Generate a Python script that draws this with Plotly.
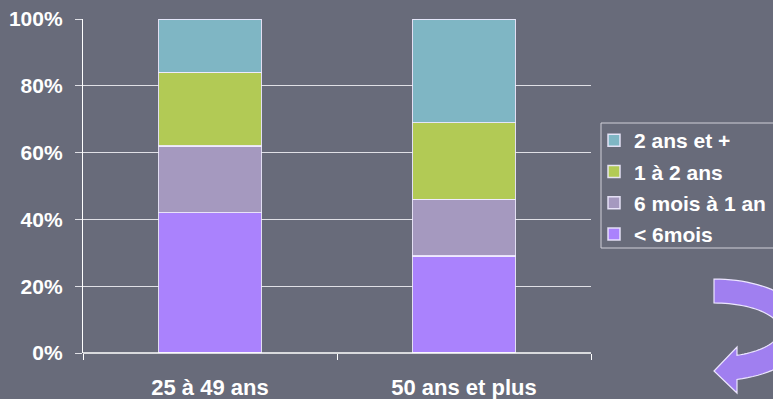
import numpy as np
import plotly.graph_objects as go

categories = ["25 à 49 ans", "50 ans et plus"]
series_names = ["< 6mois", "6 mois à 1 an", "1 à 2 ans", "2 ans et +"]
lt6 = [42, 29]
m6_1 = [20, 17]
a1_2 = [22, 23]
a2p = [16, 31]
colors = ["#aa82fd", "#a599bf", "#b2ca55", "#7fb6c4"]
y_ticks = [0, 20, 40, 60, 80, 100]
y_tick_labels = ["0%", "20%", "40%", "60%", "80%", "100%"]

W, H = 773, 399
L, R, T, B = 83, 591, 19, 353
BG = "#686b7a"
FONT = "Liberation Sans, Arial, sans-serif"

fig = go.Figure()
for i, (name, vals, col) in enumerate(zip(series_names, [lt6, m6_1, a1_2, a2p], colors)):
    fig.add_trace(go.Bar(
        x=categories, y=vals, name=name, legendgroup=name, legendrank=10 - i,
        marker=dict(color=col, line=dict(color="rgba(240,235,255,0.9)", width=1.5)),
        width=0.405,
    ))

def px2paper(px, py):
    return (px - L) / (R - L), (B - py) / (B - T)

# curved arrow decoration (pixel geometry converted to paper coords)
cx, cy = 714, 330
ro_x, ro_y = 95, 51
ri_x, ri_y = 66, 27
pts = []
end_o = np.degrees(np.arccos(23 / ro_x))
for a in np.linspace(-90, end_o, 50):
    r = np.radians(a)
    pts.append((cx + ro_x * np.cos(r), cy + ro_y * np.sin(r)))
pts.append((737, 393))
pts.append((714, 371))
pts.append((737, 347))
end_i = np.degrees(np.arccos(23 / ri_x))
for a in np.linspace(end_i, -90, 50):
    r = np.radians(a)
    pts.append((cx + ri_x * np.cos(r), cy + ri_y * np.sin(r)))
path = ""
for i, (px, py) in enumerate(pts):
    xp, yp = px2paper(px, py)
    path += ("M" if i == 0 else "L") + f"{xp:.5f},{yp:.5f} "
path += "Z"
fig.add_shape(type="path", path=path, xref="paper", yref="paper",
              fillcolor="#a07ff0", line=dict(color="#ece6ff", width=1.2), layer="above")

# legend frame
x0, y0 = px2paper(601, 123)
x1, y1 = px2paper(800, 248)
fig.add_shape(type="rect", xref="paper", yref="paper", x0=x0, x1=x1, y0=y1, y1=y0,
              line=dict(color="#d0d0d8", width=1), fillcolor="rgba(0,0,0,0)")

fig.add_shape(type="line", xref="paper", yref="paper", x0=0, x1=1, y0=0, y1=0,
              line=dict(color="white", width=1.5))

fig.update_layout(
    width=W, height=H,
    margin=dict(l=L, r=W - R, t=T, b=H - B, autoexpand=False),
    paper_bgcolor=BG, plot_bgcolor=BG,
    barmode="stack",
    font=dict(family=FONT, color="white", size=21, weight="bold"),
    showlegend=True,
    legend=dict(
        traceorder="grouped", tracegroupgap=1,
        x=px2paper(594, 0)[0], y=px2paper(0, 120)[1], xanchor="left", yanchor="top",
        bgcolor="rgba(0,0,0,0)", borderwidth=0,
        font=dict(family=FONT, size=21, color="white", weight="bold"),
        itemwidth=30,
    ),
    xaxis=dict(
        showgrid=False, showline=False, ticks="outside", tickson="boundaries",
        ticklen=6, tickcolor="white", tickwidth=1, automargin=False,
        ticklabelstandoff=19,
        tickfont=dict(family=FONT, size=22, color="white", weight="bold"),
    ),
    yaxis=dict(
        range=[0, 100], tickvals=y_ticks, ticktext=y_tick_labels,
        showgrid=True, gridcolor="#e0e0e6", gridwidth=1.3,
        showline=True, linecolor="white", linewidth=1.3, automargin=False,
        ticks="outside", ticklen=7, tickcolor="#e0e0e6",
        ticklabelstandoff=8,
        zeroline=False,
        tickfont=dict(family=FONT, size=21, color="white", weight="bold"),
    ),
)

fig.write_html("out.html")
